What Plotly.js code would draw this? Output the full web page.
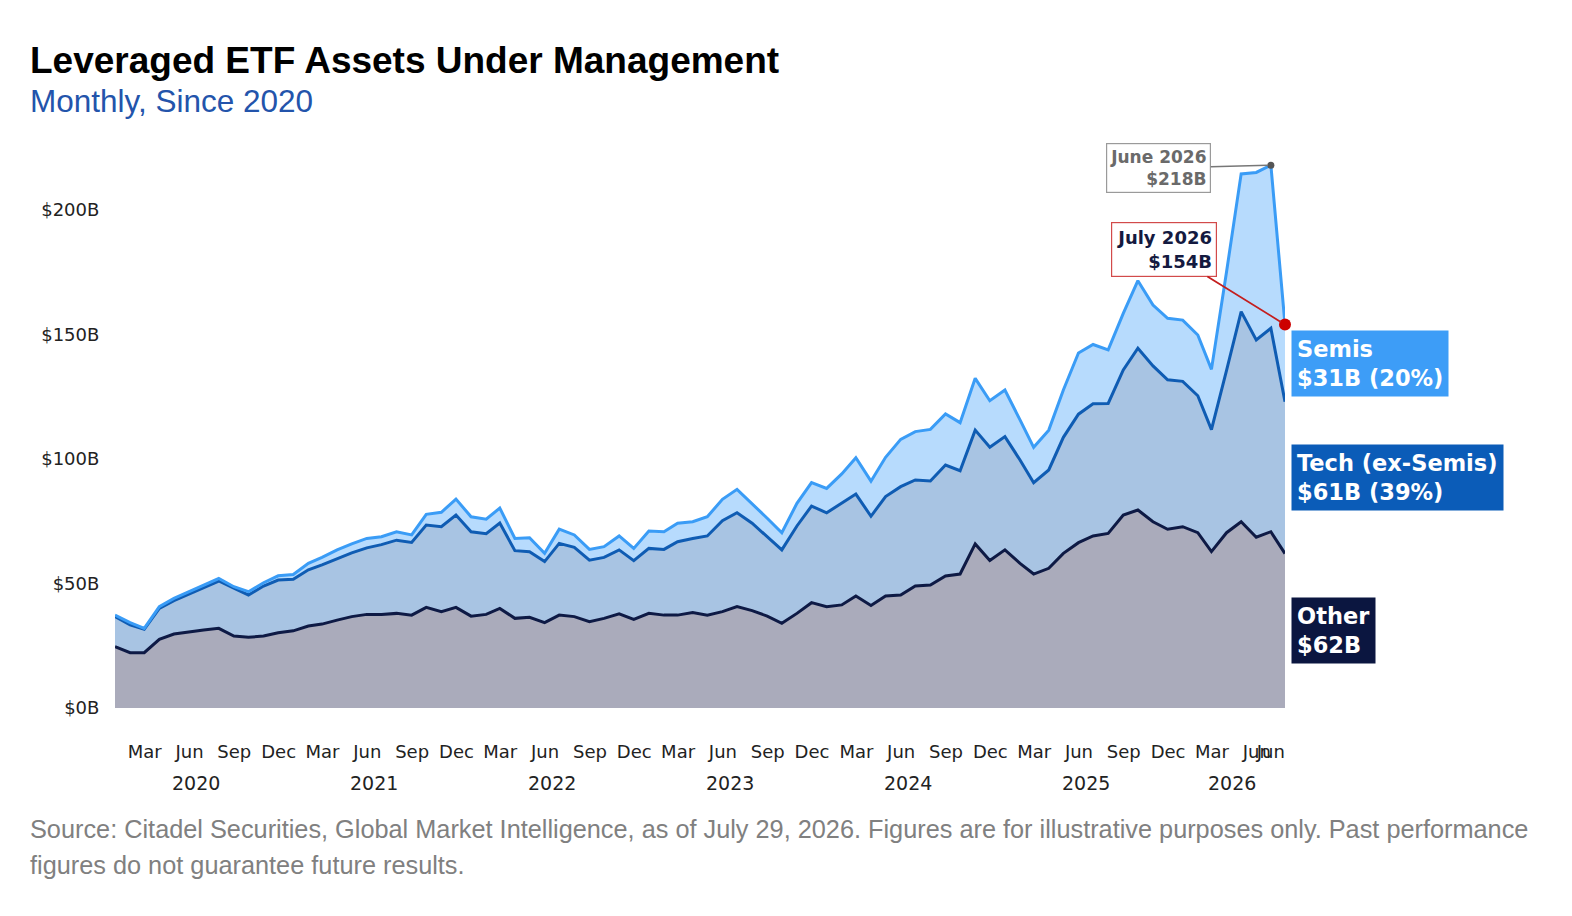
<!DOCTYPE html>
<html>
<head>
<meta charset="utf-8">
<script src="https://cdn.plot.ly/plotly-3.0.1.min.js"></script>
<style>
  html, body { margin: 0; padding: 0; background: #fff; }
  #plot { width: 1572px; height: 916px; }
</style>
</head>
<body>
<div id="plot"></div>
<script>
// month-end observations, last one is the as-of date
const dates = [
  '2019-12-31',
  '2020-01-31', '2020-02-29', '2020-03-31', '2020-04-30', '2020-05-31', '2020-06-30',
  '2020-07-31', '2020-08-31', '2020-09-30', '2020-10-31', '2020-11-30', '2020-12-31',
  '2021-01-31', '2021-02-28', '2021-03-31', '2021-04-30', '2021-05-31', '2021-06-30',
  '2021-07-31', '2021-08-31', '2021-09-30', '2021-10-31', '2021-11-30', '2021-12-31',
  '2022-01-31', '2022-02-28', '2022-03-31', '2022-04-30', '2022-05-31', '2022-06-30',
  '2022-07-31', '2022-08-31', '2022-09-30', '2022-10-31', '2022-11-30', '2022-12-31',
  '2023-01-31', '2023-02-28', '2023-03-31', '2023-04-30', '2023-05-31', '2023-06-30',
  '2023-07-31', '2023-08-31', '2023-09-30', '2023-10-31', '2023-11-30', '2023-12-31',
  '2024-01-31', '2024-02-29', '2024-03-31', '2024-04-30', '2024-05-31', '2024-06-30',
  '2024-07-31', '2024-08-31', '2024-09-30', '2024-10-31', '2024-11-30', '2024-12-31',
  '2025-01-31', '2025-02-28', '2025-03-31', '2025-04-30', '2025-05-31', '2025-06-30',
  '2025-07-31', '2025-08-31', '2025-09-30', '2025-10-31', '2025-11-30', '2025-12-31',
  '2026-01-31', '2026-02-28', '2026-03-31', '2026-04-30', '2026-05-31', '2026-06-30',
  '2026-07-29',
];

// AUM in $B, stacked bottom to top
const other = [
  24.6,
  22.2, 22.2, 27.6, 29.7, 30.6, 31.3, 32.0, 28.9, 28.4, 28.9, 30.2, 31.0,
  32.9, 33.7, 35.3, 36.7, 37.6, 37.6, 38.0, 37.3, 40.4, 38.7, 40.4, 36.9,
  37.6, 40.0, 36.0, 36.4, 34.3, 37.3, 36.7, 34.7, 36.0, 37.8, 35.6, 38.0,
  37.3, 37.3, 38.3, 37.3, 38.7, 40.7, 39.1, 36.9, 34.0, 38.0, 42.3, 40.7,
  41.4, 45.0, 41.2, 45.0, 45.4, 49.0, 49.4, 53.0, 53.8, 65.9, 59.2, 63.5,
  58.1, 53.8, 56.1, 62.1, 66.4, 69.1, 70.1, 77.5, 79.5, 74.8, 71.8, 72.8,
  70.4, 62.8, 70.4, 74.8, 68.6, 70.8,
  62.0,
];
const tech = [
  12.1,
  11.2, 9.4, 12.4, 13.4, 15.2, 16.8, 19.0, 19.2, 17.0, 20.1, 21.2, 20.7,
  22.6, 23.8, 24.6, 25.6, 26.7, 28.0, 29.4, 29.2, 33.1, 34.1, 37.1, 33.9,
  32.4, 34.3, 27.2, 26.4, 24.5, 28.8, 27.8, 24.7, 24.5, 25.7, 23.6, 26.1,
  26.4, 29.5, 29.8, 31.8, 36.5, 37.7, 35.1, 31.9, 29.5, 35.1, 38.8, 37.7,
  41.0, 40.9, 35.8, 39.9, 43.5, 42.6, 41.8, 44.6, 41.5, 45.7, 45.5, 45.5,
  41.5, 36.7, 39.5, 46.6, 51.6, 53.1, 52.2, 58.3, 65.0, 62.6, 60.0, 58.4,
  55.0, 49.0, 65.2, 84.4, 79.2, 81.7,
  61.0,
];
const semis = [
  0.6,
  0.9, 0.4, 0.7, 0.9, 0.9, 0.9, 1.0, 0.6, 1.3, 1.3, 1.7, 1.9,
  2.6, 3.0, 3.6, 3.6, 3.8, 3.2, 3.4, 3.0, 4.3, 5.8, 6.4, 6.0,
  5.8, 6.0, 4.9, 5.6, 3.3, 5.7, 5.0, 4.3, 4.3, 5.6, 4.9, 7.0,
  7.1, 7.4, 6.7, 7.7, 8.6, 9.4, 8.0, 7.4, 6.9, 9.1, 9.4, 9.8,
  11.6, 14.6, 14.1, 15.8, 19.0, 19.4, 20.7, 20.5, 19.3, 20.8, 18.7, 18.7,
  16.1, 14.2, 16.0, 19.0, 24.6, 23.8, 21.5, 22.7, 27.1, 24.4, 24.7, 24.6,
  24.4, 24.2, 39.6, 55.3, 67.3, 65.5,
  31.0,
];

const yTicks = [0, 50, 100, 150, 200];
const yTickText = ['$0B', '$50B', '$100B', '$150B', '$200B'];

const monthTicks = [];
const monthText = [];
['2020', '2021', '2022', '2023', '2024', '2025'].forEach(y => {
  [['03', 'Mar'], ['06', 'Jun'], ['09', 'Sep'], ['12', 'Dec']].forEach(m => {
    monthTicks.push(y + '-' + m[0] + '-01');
    monthText.push(m[1]);
  });
});
monthTicks.push('2026-03-01', '2026-06-01', '2026-06-30');
monthText.push('Mar', 'Jun', 'Jun');

const years = ['2020', '2021', '2022', '2023', '2024', '2025', '2026'];
const yearPos = ['2020-06-15', '2021-06-15', '2022-06-15', '2023-06-15',
                 '2024-06-15', '2025-06-15', '2026-04-11'];

const total = dates.map((d, i) => other[i] + tech[i] + semis[i]);
const last = dates.length - 1;
const peak = last - 1;

const colors = {
  otherFill: '#aaabbb', otherLine: '#0e1a45', otherBox: '#0b1640',
  techFill: '#a8c4e3', techLine: '#0f5cb3', techBox: '#0b5cb8',
  semisFill: '#b7dbfd', semisLine: '#3a9cf6', semisBox: '#3d9df7',
};

const series = [
  { y: other, fill: colors.otherFill, line: colors.otherLine },
  { y: tech, fill: colors.techFill, line: colors.techLine },
  { y: semis, fill: colors.semisFill, line: colors.semisLine },
];

const traces = series.map(s => ({
  x: dates,
  y: s.y,
  type: 'scatter',
  mode: 'lines',
  stackgroup: 'aum',
  fillcolor: s.fill,
  line: { color: s.line, width: 3 },
}));

traces.push({
  x: [dates[peak]], y: [total[peak]],
  type: 'scatter', mode: 'markers', cliponaxis: false,
  marker: { color: '#555555', size: 7 },
});
traces.push({
  x: [dates[last]], y: [total[last]],
  type: 'scatter', mode: 'markers', cliponaxis: false,
  marker: { color: '#cc0000', size: 12 },
});

const fmtB = v => '$' + Math.round(v) + 'B';
const pct = v => Math.round(v / total[last] * 100 - 0.5) + '%';

const annotations = [
  {
    xref: 'paper', yref: 'paper', x: -0.0744, y: 1.1595,
    xanchor: 'left', yanchor: 'middle', showarrow: false,
    text: '<b>Leveraged ETF Assets Under Management</b>',
    font: { family: 'Liberation Sans, Arial', size: 37, color: '#000000' },
  },
  {
    xref: 'paper', yref: 'paper', x: -0.0744, y: 1.0878,
    xanchor: 'left', yanchor: 'middle', showarrow: false,
    text: 'Monthly, Since 2020',
    font: { family: 'Liberation Sans, Arial', size: 31.5, color: '#2354ab' },
  },
  {
    xref: 'paper', yref: 'paper', x: -0.0744, y: -0.2168,
    xanchor: 'left', yanchor: 'middle', showarrow: false,
    text: 'Source: Citadel Securities, Global Market Intelligence, as of July 29, 2026. Figures are for illustrative purposes only. Past performance',
    font: { family: 'Liberation Sans, Arial', size: 25.3, color: '#808080' },
  },
  {
    xref: 'paper', yref: 'paper', x: -0.0744, y: -0.2814,
    xanchor: 'left', yanchor: 'middle', showarrow: false,
    text: 'figures do not guarantee future results.',
    font: { family: 'Liberation Sans, Arial', size: 25.3, color: '#808080' },
  },
  // peak callout
  {
    x: dates[peak], y: total[peak], xref: 'x', yref: 'y',
    ax: -112, ay: 3, axref: 'pixel', ayref: 'pixel',
    showarrow: true, arrowhead: 0, arrowwidth: 1.5, arrowcolor: '#777777', standoff: 3,
    text: '<b>June 2026<br>' + fmtB(total[peak]) + '</b>', align: 'right',
    font: { family: 'DejaVu Sans', size: 17, color: '#6a6a6a' },
    bgcolor: '#ffffff', bordercolor: '#9a9a9a', borderwidth: 1.2, borderpad: 3,
  },
  // latest callout
  {
    x: dates[last], y: total[last], xref: 'x', yref: 'y',
    ax: -121, ay: -75, axref: 'pixel', ayref: 'pixel',
    showarrow: true, arrowhead: 0, arrowwidth: 1.8, arrowcolor: '#c41e1e', standoff: 5,
    text: '<b>July 2026<br>' + fmtB(total[last]) + '</b>', align: 'right',
    font: { family: 'DejaVu Sans', size: 18, color: '#141a40' },
    bgcolor: '#ffffff', bordercolor: '#d24a4a', borderwidth: 1.2, borderpad: 4,
  },
];

// end-of-series labels, centred on each band
const bands = [
  { name: 'Semis', v: semis[last], base: other[last] + tech[last], box: colors.semisBox, share: true },
  { name: 'Tech (ex-Semis)', v: tech[last], base: other[last], box: colors.techBox, share: true },
  { name: 'Other', v: other[last], base: 0, box: colors.otherBox, share: false },
];
bands.forEach(b => {
  annotations.push({
    x: dates[last], y: b.base + b.v / 2, xref: 'x', yref: 'y',
    xanchor: 'left', yanchor: 'middle', xshift: 6, showarrow: false,
    text: '<b>' + b.name + '<br>' + fmtB(b.v) + (b.share ? ' (' + pct(b.v) + ')' : '') + '</b>',
    align: 'left',
    font: { family: 'DejaVu Sans', size: 22.5, color: '#ffffff' },
    bgcolor: b.box, borderpad: 5,
  });
});

years.forEach((y, i) => {
  annotations.push({
    x: yearPos[i], y: -0.1345, xref: 'x', yref: 'paper',
    xanchor: 'center', yanchor: 'middle', showarrow: false,
    text: y,
    font: { family: 'DejaVu Sans', size: 19, color: '#222222' },
  });
});

const layout = {
  width: 1572,
  height: 916,
  margin: { l: 115, r: 287, t: 150, b: 208 },
  paper_bgcolor: '#ffffff',
  plot_bgcolor: '#ffffff',
  showlegend: false,
  hovermode: false,
  xaxis: {
    type: 'date',
    range: [dates[0], dates[last]],
    automargin: false,
    tickvals: monthTicks,
    ticktext: monthText,
    tickangle: 0,
    ticks: 'outside',
    ticklen: 27,
    tickcolor: 'rgba(0,0,0,0)',
    showgrid: false,
    zeroline: false,
    showline: false,
    tickfont: { family: 'DejaVu Sans', size: 18, color: '#222222' },
  },
  yaxis: {
    range: [0, 224.1],
    automargin: false,
    tickvals: yTicks,
    ticktext: yTickText,
    ticks: 'outside',
    ticklen: 11,
    tickcolor: 'rgba(0,0,0,0)',
    showgrid: false,
    zeroline: false,
    showline: false,
    tickfont: { family: 'DejaVu Sans', size: 18, color: '#222222' },
  },
  annotations: annotations,
};

const config = {
  staticPlot: true,
  displayModeBar: false,
};

Plotly.newPlot('plot', traces, layout, config);
</script>
</body>
</html>
